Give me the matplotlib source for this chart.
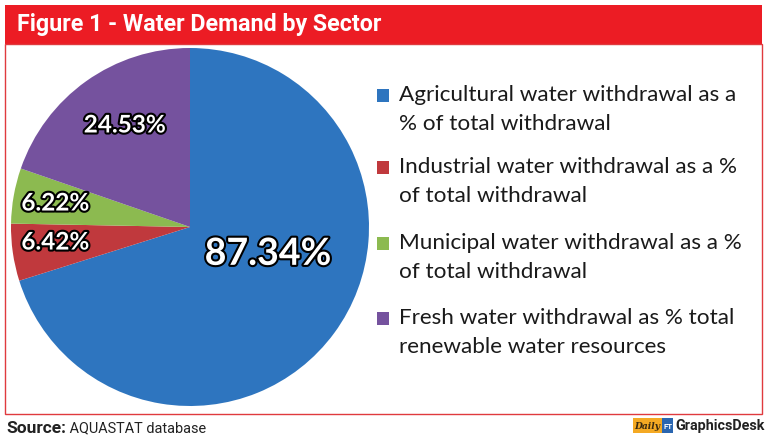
import matplotlib
matplotlib.use("Agg")
import matplotlib.pyplot as plt
import matplotlib.patheffects as pe
from matplotlib.patches import Rectangle
from matplotlib import font_manager

W, H = 770, 444
fig = plt.figure(figsize=(W / 100, H / 100), dpi=100)
fig.patch.set_facecolor("white")

title = "Figure 1 - Water Demand by Sector"
categories = [
    "Agricultural water withdrawal as a\n% of total withdrawal",
    "Industrial water withdrawal as a %\nof total withdrawal",
    "Municipal water withdrawal as a %\nof total withdrawal",
    "Fresh water withdrawal as % total\nrenewable water resources",
]
values = [87.34, 6.42, 6.22, 24.53]
colors = ["#2E75BF", "#C0393D", "#8CBA50", "#75529E"]
source_bold = "Source:"
source_text = " AQUASTAT database"

names = {f.name for f in font_manager.fontManager.ttflist}
cond = "Liberation Sans Narrow" if "Liberation Sans Narrow" in names else "Roboto"
body = "Lato" if "Lato" in names else "DejaVu Sans"

renderer = fig.canvas.get_renderer()

def px(x, y):
    return x / W, 1 - y / H

def fitted(x, y, s, width, **kw):
    t = fig.text(*px(x, y), s, fontsize=10, **kw)
    w = t.get_window_extent(renderer).width
    t.set_fontsize(10 * width / w)
    return t

# title bar and frame
red = "#EC1C24"
fig.patches.append(Rectangle(px(5, 44), 757 / W, 39 / H, transform=fig.transFigure,
                             facecolor=red, edgecolor="none", zorder=0))
fig.patches.append(Rectangle(px(5, 414), 757 / W, 370 / H, transform=fig.transFigure,
                             facecolor="none", edgecolor="#E03A3E", linewidth=1.0, zorder=0))
fitted(17, 25, title, 365, color="white", fontweight="bold", family=cond,
       va="center", ha="left")

# pie
cx, cy, r = 190, 227, 179
ax = fig.add_axes([(cx - r) / W, (H - cy - r) / H, 2 * r / W, 2 * r / H])
ax.pie(values, colors=colors, startangle=90, counterclock=False, radius=1,
       wedgeprops=dict(linewidth=0))
ax.set_xlim(-1, 1)
ax.set_ylim(-1, 1)
ax.set_aspect("equal")
ax.axis("off")

label_pos = [(0.436, -0.150), (-0.754, -0.084), (-0.754, 0.134), (-0.366, 0.570)]
label_size = [27, 17.5, 17.5, 17.5]
for v, (lx, ly), s in zip(values, label_pos, label_size):
    ax.text(lx, ly, f"{v:.2f}%", color="white", fontsize=s, fontweight="bold",
            family=body, ha="center", va="center",
            path_effects=[pe.withStroke(linewidth=3, foreground="black")])

# legend
entry_y = [95, 167, 243, 318]
line_h = 29
for cat, col, ey in zip(categories, colors, entry_y):
    fig.patches.append(Rectangle(px(377, ey + 7), 12 / W, 13 / H, transform=fig.transFigure,
                                 facecolor=col, edgecolor="none"))
    for i, line in enumerate(cat.split("\n")):
        fig.text(*px(399, ey + i * line_h), line, fontsize=16.2, family=body,
                 color="#1a1a1a", va="center", ha="left")

# source
t = fitted(6, 428, source_bold, 60, fontweight="bold", family=cond,
           color="#222222", va="center", ha="left")
bb = t.get_window_extent(renderer)
fitted(bb.x1, 428, source_text, 140, family=cond, color="#222222",
       va="center", ha="left").set_position((bb.x1 / W, 1 - 428 / H))

# logo
fig.patches.append(Rectangle(px(633, 433), 29 / W, 15 / H, transform=fig.transFigure,
                             facecolor="#F4A923", edgecolor="none"))
fitted(634, 426, "Daily", 26, fontstyle="italic", fontweight="bold",
       family="DejaVu Serif", color="#3a2a10", ha="left", va="center")
fig.patches.append(Rectangle(px(662, 433), 11 / W, 15 / H, transform=fig.transFigure,
                             facecolor="#2A66B0", edgecolor="none"))
fitted(663, 426, "FT", 9, fontweight="bold", family=cond,
       color="white", ha="left", va="center")
fitted(675, 426, "GraphicsDesk", 90, fontweight="bold", family=cond,
       color="#222222", ha="left", va="center")

fig.savefig("out.png", dpi=100, facecolor="white")
